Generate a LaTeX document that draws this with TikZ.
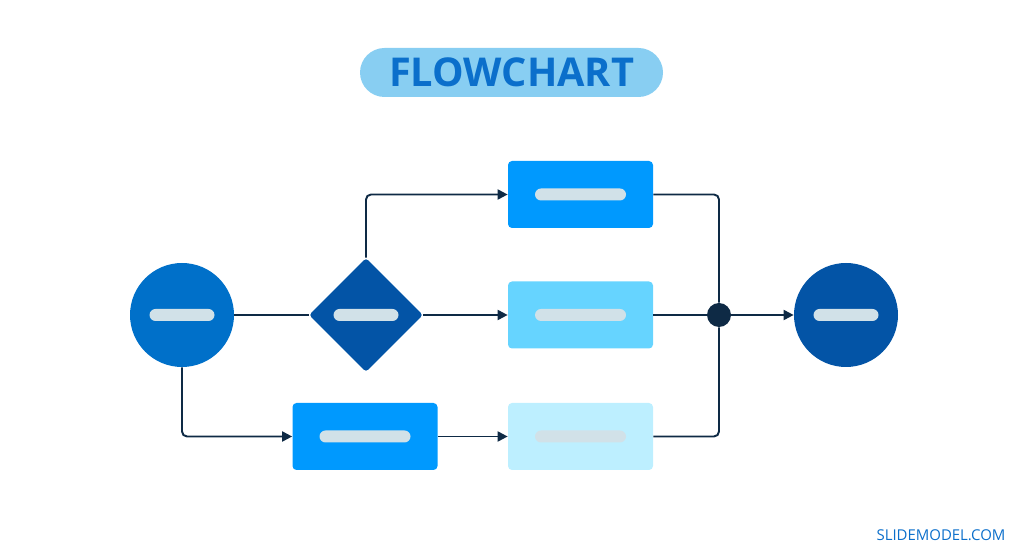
\documentclass[tikz,border=0pt]{standalone}
\usepackage{fontspec}
\setsansfont{Open Sans}
\usetikzlibrary{arrows.meta,shapes.geometric}
\definecolor{pillblue}{HTML}{88CEF2}
\definecolor{titleblue}{HTML}{0B6FCB}
\definecolor{startblue}{HTML}{0070C9}
\definecolor{deepblue}{HTML}{0354A6}
\definecolor{boxblue}{HTML}{0099FE}
\definecolor{midblue}{HTML}{66D4FF}
\definecolor{paleblue}{HTML}{BDEFFF}
\definecolor{barcol}{HTML}{D1E1E8}
\definecolor{linecol}{HTML}{0E2A45}

\begin{document}
\begin{tikzpicture}[every node/.style={font=\sffamily}, >={Triangle[length=2mm,width=2mm]},
	conn/.style={draw=linecol, line width=1.1pt, rounded corners=0.1cm},
	term/.style={circle, inner sep=0pt, minimum size=2.08cm},
	stepbox/.style={rectangle, rounded corners=0.08cm, inner sep=0pt, minimum width=2.9cm, minimum height=1.34cm},
	bar/.style={rectangle, rounded corners=0.12cm, fill=barcol, inner sep=0pt, minimum height=0.24cm}]
	\useasboundingbox (0,0) rectangle (20.48,-11.18);
	\node[fill=pillblue, rounded corners=0.49cm, minimum width=6.06cm, minimum height=0.98cm, text=titleblue, font=\sffamily\bfseries\fontsize{22.6}{24}\selectfont] (title) at (10.23,-1.45) {FLOWCHART};
	\node[term, fill=startblue] (start) at (3.64,-6.30) {};
	\node[diamond, aspect=1, fill=deepblue, inner sep=0pt, minimum width=2.28cm, minimum height=2.28cm, rounded corners=0.06cm] (dec) at (7.32,-6.30) {};
	\node[stepbox, fill=boxblue] (top) at (11.61,-3.89) {};
	\node[stepbox, fill=midblue] (mid) at (11.61,-6.30) {};
	\node[stepbox, fill=boxblue] (low) at (7.30,-8.73) {};
	\node[stepbox, fill=paleblue] (pale) at (11.61,-8.73) {};
	\node[circle, fill=linecol, inner sep=0pt, minimum size=0.48cm] (join) at (14.38,-6.30) {};
	\node[term, fill=deepblue] (stop) at (16.92,-6.30) {};
	\node[bar, minimum width=1.3cm] (startbar) at (start.center) {};
	\node[bar, minimum width=1.3cm] (decbar) at (dec.center) {};
	\node[bar, minimum width=1.82cm] (topbar) at (top.center) {};
	\node[bar, minimum width=1.82cm] (midbar) at (mid.center) {};
	\node[bar, minimum width=1.82cm] (lowbar) at (low.center) {};
	\node[bar, minimum width=1.82cm] (palebar) at (pale.center) {};
	\node[bar, minimum width=1.3cm] (stopbar) at (stop.center) {};
	\draw[conn] (start) -- (dec);
	\draw[conn, ->] (dec.north) |- (top.west);
	\draw[conn, ->] (dec) -- (mid);
	\draw[conn, ->] (start.south) |- (low.west);
	\draw[conn, ->] (low) -- (pale);
	\draw[conn] (top.east) -| (join);
	\draw[conn] (mid) -- (join);
	\draw[conn] (pale.east) -| (join);
	\draw[conn, ->] (join) -- (stop);
	\node[text=titleblue, font=\sffamily\fontsize{8.5}{10}\selectfont] (mark) at (18.82,-10.70) {SLIDEMODEL.COM};
\end{tikzpicture}
\end{document}
